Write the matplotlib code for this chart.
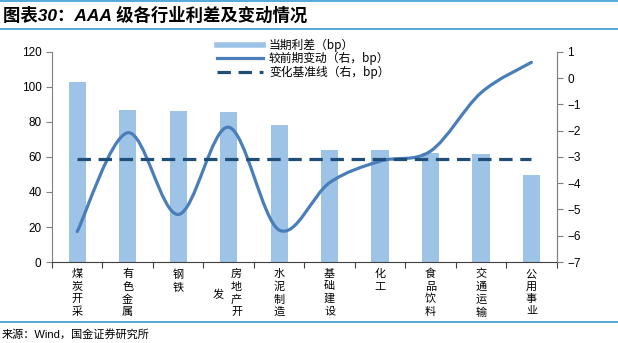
import numpy as np
import matplotlib
matplotlib.use("Agg")
import matplotlib.pyplot as plt
import matplotlib.transforms as mtransforms
from matplotlib.path import Path
from matplotlib.patches import PathPatch
from matplotlib.lines import Line2D

plt.rcParams['font.family'] = ['Liberation Sans', 'Noto Sans CJK SC', 'DejaVu Sans']

# 数据
industries = ["煤\n炭\n开\n采", "有\n色\n金\n属", "钢\n铁", "房\n地\n产\n开", "水\n泥\n制\n造",
              "基\n础\n建\n设", "化\n工", "食\n品\n饮\n料", "交\n通\n运\n输", "公\n用\n事\n业"]
spread = [102.5, 86.7, 86.1, 85.7, 78.1, 64.2, 64.2, 62.5, 61.9, 49.7]
change = [-5.84, -2.08, -5.19, -1.87, -5.78, -3.98, -3.16, -2.78, -0.56, 0.6]
baseline = [-3.07] * 10

bar_color = '#9DC3E6'
line_color = '#4A7EBB'
dash_color = '#1F4E79'
rule_color = '#3A9AD2'


def smooth_path(xs, ys):
    # Excel 风格的平滑曲线（三次贝塞尔）
    pts = np.column_stack([xs, ys]).astype(float)
    n = len(pts)
    verts = [pts[0]]
    codes = [Path.MOVETO]
    for i in range(n - 1):
        p0 = pts[i - 1] if i > 0 else pts[i]
        p1 = pts[i]
        p2 = pts[i + 1]
        p3 = pts[i + 2] if i + 2 < n else pts[i + 1]
        c1 = p1 + (p2 - p0) / 6
        c2 = p2 - (p3 - p1) / 6
        verts += [c1, c2, p2]
        codes += [Path.CURVE4] * 3
    return Path(verts, codes)


fig = plt.figure(figsize=(6.18, 3.43), dpi=100)
ax = fig.add_axes([0.0841, 0.236, 0.8167, 0.613])
x = np.arange(len(industries))

ax.bar(x, spread, width=0.34, color=bar_color, zorder=2)
ax.set_xlim(-0.5, 9.5)
ax.set_ylim(0, 120)
ax.set_yticks(range(0, 121, 20))

ax.set_xticks(np.arange(-0.5, 10, 1))
ax.set_xticklabels([])
ax.set_xticks(x, minor=True)
ax.set_xticklabels(industries, minor=True, fontsize=8, linespacing=1.3,
                   family=['Noto Sans CJK SC'], va='top')
ax.tick_params(axis='x', which='major', direction='out', length=4, color='#404040')
ax.tick_params(axis='x', which='minor', length=0, pad=5)
ax.tick_params(axis='y', direction='out', length=4, labelsize=8.5, color='#808080')

# 房地产开发 那一列稍微右移
lab = ax.get_xticklabels(minor=True)[3]
lab.set_transform(lab.get_transform() + mtransforms.ScaledTranslation(0.08, 0, fig.dpi_scale_trans))

ax.spines['top'].set_visible(False)
ax.spines['left'].set_color('#808080')
ax.spines['right'].set_color('#808080')
ax.spines['bottom'].set_color('#404040')

# "发" 换到左侧一列
ax.text(2.8, -0.155, "发", transform=ax.get_xaxis_transform(), fontsize=8,
        family=['Noto Sans CJK SC'], ha='center', va='center')

ax2 = ax.twinx()
ax2.set_ylim(-7, 1)
ax2.set_yticks(range(-7, 2))
ax2.tick_params(axis='y', direction='out', length=4, labelsize=8.5, color='#808080')
for s in ['top', 'left', 'bottom']:
    ax2.spines[s].set_visible(False)
ax2.spines['right'].set_color('#808080')

ax2.add_patch(PathPatch(smooth_path(x, change), facecolor='none', edgecolor=line_color,
                        lw=2.3, capstyle='round', zorder=3))
ax2.plot(x, baseline, color=dash_color, lw=2.3, linestyle=(0, (4.2, 2.4)), zorder=3)

handles = [Line2D([], [], color=bar_color, lw=4),
           Line2D([], [], color=line_color, lw=2.3),
           Line2D([], [], color=dash_color, lw=2.3, linestyle=(0, (4.2, 2.4)))]
labels = ["当期利差（bp）", "较前期变动（右，bp）", "变化基准线（右，bp）"]
fig.legend(handles, labels, loc='upper left', bbox_to_anchor=(0.351, 0.888),
           frameon=False, handlelength=3.9, handletextpad=0.5,
           labelspacing=0.05, borderpad=0, borderaxespad=0,
           prop={'family': ['Noto Sans CJK SC'], 'size': 8.5})

# 标题与来源
fig.add_artist(Line2D([0, 1], [0.996, 0.996], color=rule_color, lw=1.2, transform=fig.transFigure))
fig.add_artist(Line2D([0, 1], [0.916, 0.916], color=rule_color, lw=1.2, transform=fig.transFigure))
fig.add_artist(Line2D([0, 1], [0.061, 0.061], color=rule_color, lw=1.2, transform=fig.transFigure))
fig.text(0.005, 0.955, "图表30：AAA 级各行业利差及变动情况", fontsize=12.5, fontweight='bold',
         fontstyle='italic', va='center', ha='left')
fig.text(0.002, 0.024, "来源：Wind，国金证券研究所", fontsize=8, va='center', ha='left')

fig.savefig("out.png", dpi=100)
